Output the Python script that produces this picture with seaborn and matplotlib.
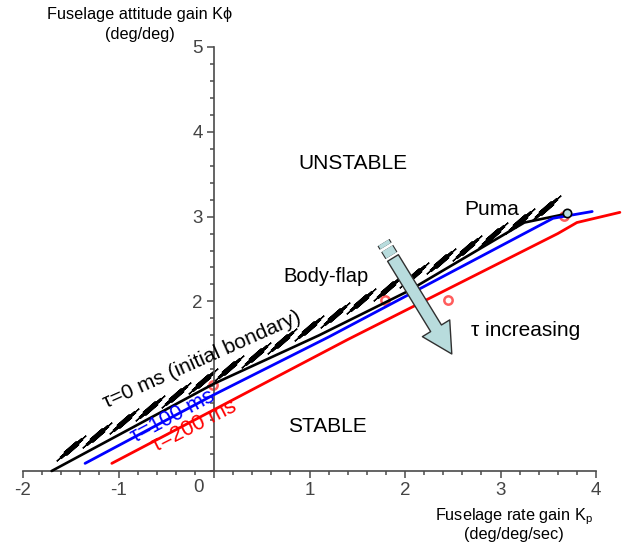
import numpy as np
import pandas as pd
import matplotlib
matplotlib.use("Agg")
import matplotlib.pyplot as plt
import seaborn as sns
from matplotlib.ticker import MultipleLocator
import matplotlib.patheffects as pe

# ---------------- data ----------------
tau0_x = [-1.70, 0.00, 1.10, 2.03, 3.25, 3.68]
tau0_y = [0.00, 1.03, 1.60, 2.12, 2.93, 3.03]
tau100_x = [-1.35, 0.00, 1.20, 3.55, 3.96]
tau100_y = [0.09, 0.90, 1.58, 2.98, 3.06]
tau200_x = [-1.07, 1.40, 3.60, 3.80, 4.25]
tau200_y = [0.09, 1.55, 2.80, 2.93, 3.05]
boundary_x = [-1.50, 3.48]          # hatched "initial boundary"
boundary_y = [0.27, 3.10]
n_hatch = 19
test_x = [1.79, 2.45, -0.01, 3.66]  # red test points
test_y = [2.02, 2.02, 1.01, 3.01]
puma_x = [3.70]
puma_y = [3.04]
arrow_from = (1.874, 2.512)
arrow_to = (2.49, 1.38)
x_ticks = [-2, -1, 0, 1, 2, 3, 4]
x_ticklabels = ['-2', '-1', '', '1', '2', '3', '4']
y_ticks = [1, 2, 3, 4, 5]
y_ticklabels = ['', '2', '3', '4', '5']

# ---------------- style ----------------
sns.set_theme(style="white")
plt.rcParams['font.family'] = ['Liberation Sans', 'DejaVu Sans']
plt.rcParams['mathtext.fontset'] = 'custom'
plt.rcParams['mathtext.rm'] = 'Liberation Sans'

W, H = 626, 546
fig = plt.figure(figsize=(W / 100, H / 100), dpi=100)
fig.patch.set_facecolor('white')
ax = fig.add_axes([23 / W, 75 / H, 573 / W, 424 / H])
ax.set_xlim(-2, 4)
ax.set_ylim(0, 5)
ax.set_facecolor('none')

axis_col = '#4a4a4a'
for s in ['top', 'right']:
    ax.spines[s].set_visible(False)
ax.spines['left'].set_position(('data', 0))
ax.spines['bottom'].set_position(('data', 0))
for s in ['left', 'bottom']:
    ax.spines[s].set_color(axis_col)
    ax.spines[s].set_linewidth(1.2)

ax.set_xticks(x_ticks, labels=x_ticklabels)
ax.set_yticks(y_ticks, labels=y_ticklabels)
ax.xaxis.set_minor_locator(MultipleLocator(0.2))
ax.yaxis.set_minor_locator(MultipleLocator(0.2))
ax.tick_params(which='both', direction='out', color=axis_col, width=1.1,
               bottom=True, left=True, labelsize=13.5, labelcolor='#444444')
ax.tick_params(which='major', length=5, pad=3)
ax.tick_params(which='minor', length=3)
ax.annotate('0', xy=(0, 0), xytext=(-11.5, -6), textcoords='offset points',
            ha='center', va='top', fontsize=13.5, color='#444444')

# ---------------- hatched initial boundary ----------------
hx = np.linspace(boundary_x[0], boundary_x[1], n_hatch)
hy = np.linspace(boundary_y[0], boundary_y[1], n_hatch)
for ms, mew in [(28, 0.9), (21, 2.0), (12, 3.6)]:
    ax.plot(hx, hy, ls='none', marker=(2, 2, -49), ms=ms, mew=mew, mec='black',
            zorder=2, clip_on=False)

# ---------------- test points ----------------
ax.plot(test_x, test_y, ls='none', marker='o', ms=6, mfc='none', mec='#ff5c5c',
        mew=1.8, zorder=1.5, clip_on=False)

# ---------------- stability boundaries ----------------
df0 = pd.DataFrame({'x': tau0_x, 'y': tau0_y})
df1 = pd.DataFrame({'x': tau100_x, 'y': tau100_y})
df2 = pd.DataFrame({'x': tau200_x, 'y': tau200_y})
sns.lineplot(data=df0, x='x', y='y', sort=False, estimator=None, color='black',
             lw=1.9, ax=ax, clip_on=False, zorder=3)
sns.lineplot(data=df1, x='x', y='y', sort=False, estimator=None, color='#0000ff',
             lw=2.0, ax=ax, clip_on=False, zorder=3)
sns.lineplot(data=df2, x='x', y='y', sort=False, estimator=None, color='#ff0000',
             lw=2.0, ax=ax, clip_on=False, zorder=3)
ax.set_xlabel('')
ax.set_ylabel('')

ax.plot(puma_x, puma_y, ls='none', marker='o', ms=6, mfc='#b8dcdd', mec='black',
        mew=1.2, zorder=4, clip_on=False)

# ---------------- arrow ----------------
arrow_fc = '#b8dcdd'
arrow_ec = '#303030'
ax.annotate('', xy=arrow_to, xytext=arrow_from,
            arrowprops=dict(arrowstyle='simple,head_length=1.55,head_width=1.65,tail_width=0.65',
                            mutation_scale=14, fc=arrow_fc, ec=arrow_ec, lw=1,
                            shrinkA=0, shrinkB=0), zorder=6)
fx, fy = arrow_from
tx, ty = arrow_to
for t0, t1 in [(-0.098, -0.027), (-0.16, -0.124)]:
    ax.plot([fx + t0 * (tx - fx), fx + t1 * (tx - fx)],
            [fy + t0 * (ty - fy), fy + t1 * (ty - fy)],
            color=arrow_fc, lw=8.6, solid_capstyle='butt', zorder=6, clip_on=False,
            path_effects=[pe.Stroke(linewidth=10.2, foreground=arrow_ec), pe.Normal()])

# ---------------- annotations ----------------
ax.text(1.455, 3.63, 'UNSTABLE', fontsize=15, ha='center', va='center', color='black')
ax.text(1.183, 0.52, 'STABLE', fontsize=15, ha='center', va='center', color='black')
ax.text(2.91, 3.08, 'Puma', fontsize=15, ha='center', va='center', color='black')
ax.text(1.17, 2.29, 'Body-flap', fontsize=14.5, ha='center', va='center', color='black')
ax.text(3.26, 1.66, 'τ increasing', fontsize=15, ha='center', va='center', color='black')
ax.text(-0.13, 1.31, 'τ=0 ms (initial bondary)', fontsize=15, rotation=24,
        rotation_mode='anchor', ha='center', va='center', color='black', zorder=5)
ax.text(-0.43, 0.64, 'τ=100 ms', fontsize=15.5, rotation=28,
        rotation_mode='anchor', ha='center', va='center', color='#0000ff', zorder=5)
ax.text(-0.20, 0.53, 'τ=200 ms', fontsize=15.5, rotation=27,
        rotation_mode='anchor', ha='center', va='center', color='#ff0000', zorder=5)

# axis titles
fig.text(140 / W, 1 - 14 / H, 'Fuselage attitude gain Kϕ', fontsize=11.7,
         ha='center', va='center', color='black')
fig.text(140 / W, 1 - 35 / H, '(deg/deg)', fontsize=11.7, ha='center', va='center',
         color='black')
fig.text(514 / W, 1 - 517 / H, r'Fuselage rate gain K$_\mathregular{p}$', fontsize=11.7,
         ha='center', va='center', color='black')
fig.text(514 / W, 1 - 534 / H, '(deg/deg/sec)', fontsize=11.7, ha='center',
         va='center', color='black')

fig.savefig('out.png', dpi=100, facecolor='white')
